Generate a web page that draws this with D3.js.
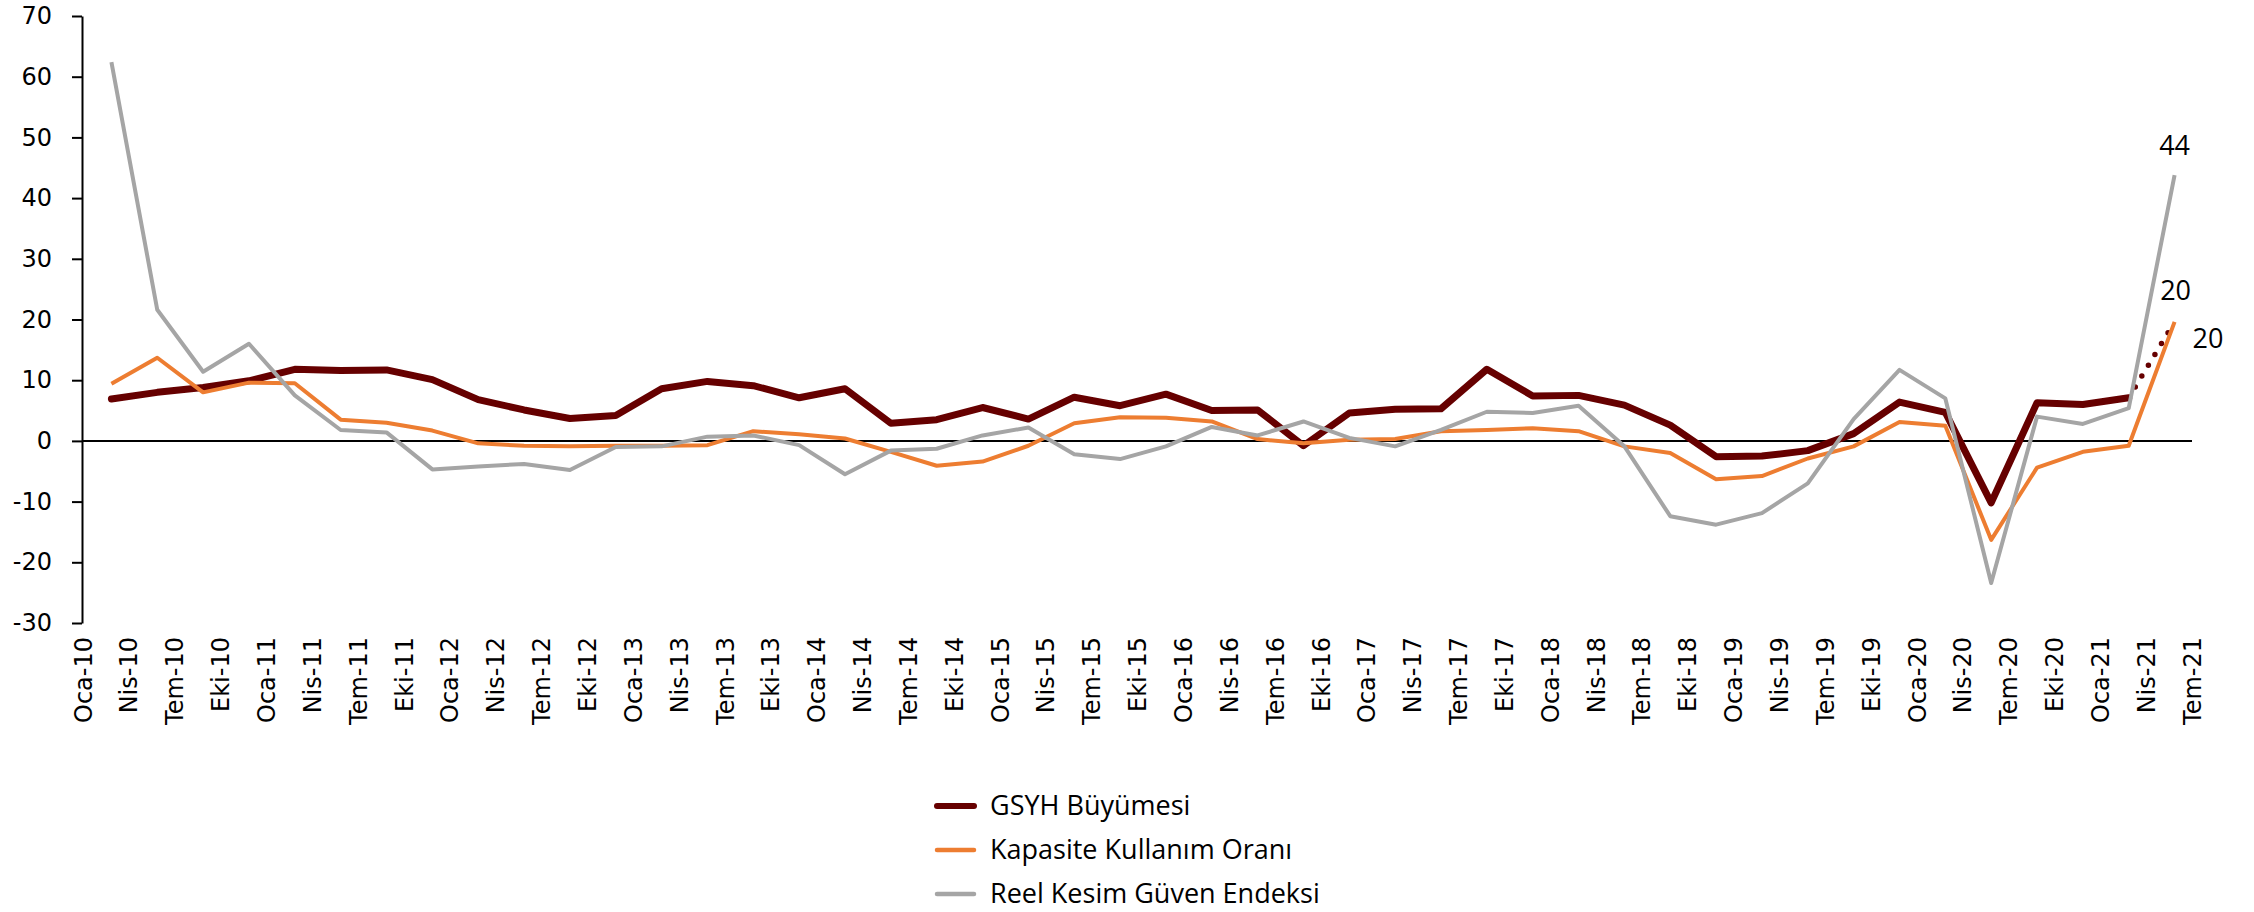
<!DOCTYPE html>
<html lang="tr">
<head>
<meta charset="utf-8">
<script src="https://cdn.jsdelivr.net/npm/d3@7"></script>
<style>
  html, body { margin: 0; padding: 0; background: #fff; }
  svg { display: block; }
</style>
</head>
<body>
<svg id="chart" width="2254" height="912"></svg>
<script>
// Quarterly tick labels (start of each quarter)
const tickLabels = [
  "Oca-10","Nis-10","Tem-10","Eki-10",
  "Oca-11","Nis-11","Tem-11","Eki-11",
  "Oca-12","Nis-12","Tem-12","Eki-12",
  "Oca-13","Nis-13","Tem-13","Eki-13",
  "Oca-14","Nis-14","Tem-14","Eki-14",
  "Oca-15","Nis-15","Tem-15","Eki-15",
  "Oca-16","Nis-16","Tem-16","Eki-16",
  "Oca-17","Nis-17","Tem-17","Eki-17",
  "Oca-18","Nis-18","Tem-18","Eki-18",
  "Oca-19","Nis-19","Tem-19","Eki-19",
  "Oca-20","Nis-20","Tem-20","Eki-20",
  "Oca-21","Nis-21","Tem-21"
];

// Quarters of the observations, 2010 Q1 – 2021 Q2
const quarters = [
  "2010Q1","2010Q2","2010Q3","2010Q4","2011Q1","2011Q2","2011Q3","2011Q4",
  "2012Q1","2012Q2","2012Q3","2012Q4","2013Q1","2013Q2","2013Q3","2013Q4",
  "2014Q1","2014Q2","2014Q3","2014Q4","2015Q1","2015Q2","2015Q3","2015Q4",
  "2016Q1","2016Q2","2016Q3","2016Q4","2017Q1","2017Q2","2017Q3","2017Q4",
  "2018Q1","2018Q2","2018Q3","2018Q4","2019Q1","2019Q2","2019Q3","2019Q4",
  "2020Q1","2020Q2","2020Q3","2020Q4","2021Q1","2021Q2"
];

// GSYH Büyümesi (annual % change), realised up to 2021Q1
const gsyh = [
  6.9, 8.0, 8.8, 9.9, 11.8, 11.6, 11.7, 10.1, 6.8, 5.1, 3.7, 4.2,
  8.6, 9.8, 9.1, 7.1, 8.6, 2.9, 3.5, 5.5, 3.6, 7.2, 5.8, 7.7,
  5.0, 5.1, -0.8, 4.6, 5.2, 5.3, 11.8, 7.4, 7.5, 5.9, 2.6, -2.6,
  -2.5, -1.6, 1.2, 6.4, 4.7, -10.2, 6.3, 6.0, 7.1
];
// GSYH estimate for 2021Q2 (dotted)
const gsyhForecast = 19.6;

// Kapasite Kullanım Oranı (annual change)
const kko = [
  9.4, 13.7, 8.0, 9.6, 9.5, 3.5, 3.0, 1.7, -0.4, -0.8, -0.9, -0.8,
  -0.8, -0.7, 1.6, 1.1, 0.4, -1.8, -4.1, -3.4, -0.8, 2.9, 3.9, 3.8,
  3.2, 0.3, -0.4, 0.2, 0.3, 1.6, 1.8, 2.1, 1.6, -0.9, -2.0, -6.3,
  -5.8, -2.9, -0.9, 3.1, 2.5, -16.3, -4.4, -1.8, -0.8, 19.6
];

// Reel Kesim Güven Endeksi (annual change)
const rkge = [
  62.4, 21.6, 11.4, 16.0, 7.5, 1.8, 1.4, -4.7, -4.2, -3.8, -4.8, -1.0,
  -0.9, 0.7, 0.9, -0.7, -5.5, -1.6, -1.3, 0.9, 2.2, -2.2, -3.0, -0.9,
  2.3, 0.9, 3.2, 0.5, -0.9, 1.8, 4.8, 4.6, 5.8, -0.9, -12.4, -13.8,
  -11.9, -7.0, 3.6, 11.7, 7.0, -23.4, 4.0, 2.8, 5.4, 43.8
];

const yTicks = [70, 60, 50, 40, 30, 20, 10, 0, -10, -20, -30];

const seriesNames = ["GSYH Büyümesi", "Kapasite Kullanım Oranı", "Reel Kesim Güven Endeksi"];
const seriesColors = ["#660000", "#ED7D31", "#A5A5A5"];

// ---- layout ----
const svg = d3.select("#chart");
const axisFont = "'DejaVu Sans', Verdana, sans-serif";
const textFont = "'Open Sans', 'Noto Sans', sans-serif";

// x: quarter index; observations sit late within their quarter
const pointOffset = 0.62;
const x = d3.scaleLinear().domain([0, tickLabels.length - 1]).range([83, 2192]);
const y = d3.scaleLinear().domain([-30, 70]).range([623, 16]);

const xi = i => x(i + pointOffset);

svg.append("rect").attr("width", 2254).attr("height", 912).attr("fill", "#fff");

// y axis
const yAxis = d3.axisLeft(y)
  .tickValues(yTicks)
  .tickSize(10)
  .tickPadding(20)
  .tickSizeOuter(0)
  .tickFormat(d => String(d));

const gy = svg.append("g")
  .attr("transform", `translate(${x(0) - 1},0)`)
  .call(yAxis);
gy.select(".domain").attr("stroke", "#000").attr("stroke-width", 2);
gy.selectAll(".tick line").attr("stroke", "#000").attr("stroke-width", 2);
gy.selectAll(".tick text")
  .attr("fill", "#000")
  .style("font-family", axisFont)
  .style("font-size", "24px");

// zero line
svg.append("line")
  .attr("x1", x(0) - 1).attr("x2", x(tickLabels.length - 1))
  .attr("y1", y(0)).attr("y2", y(0))
  .attr("stroke", "#000").attr("stroke-width", 2);

// x tick labels (rotated)
const gx = svg.append("g");
gx.selectAll("text")
  .data(tickLabels)
  .join("text")
  .attr("transform", (d, i) => `translate(${x(i)},637) rotate(-90)`)
  .attr("text-anchor", "end")
  .attr("dy", "0.36em")
  .style("font-family", axisFont)
  .style("font-size", "24px")
  .attr("fill", "#000")
  .text(d => d);

// ---- lines ----
const line = d3.line()
  .x(d => xi(d.i))
  .y(d => y(d.v));

const toPts = arr => arr.map((v, i) => ({ i, v }));

// GSYH solid
svg.append("path")
  .datum(toPts(gsyh))
  .attr("d", line)
  .attr("fill", "none")
  .attr("stroke", seriesColors[0])
  .attr("stroke-width", 7)
  .attr("stroke-linejoin", "round")
  .attr("stroke-linecap", "round");

// GSYH dotted estimate
const lastG = gsyh.length - 1;
const fcPts = [{ i: lastG, v: gsyh[lastG] }, { i: lastG + 1, v: gsyhForecast }];
const fcPath = svg.append("path")
  .datum(fcPts)
  .attr("d", line)
  .attr("fill", "none")
  .attr("stroke", seriesColors[0])
  .attr("stroke-width", 5.5)
  .attr("stroke-linecap", "round");
{
  const len = fcPath.node().getTotalLength();
  const n = Math.round(len / 12.3);
  fcPath.attr("stroke-dasharray", `0 ${len / n}`);
}

// Kapasite Kullanım Oranı
svg.append("path")
  .datum(toPts(kko))
  .attr("d", line)
  .attr("fill", "none")
  .attr("stroke", seriesColors[1])
  .attr("stroke-width", 4)
  .attr("stroke-linejoin", "round");

// Reel Kesim Güven Endeksi
svg.append("path")
  .datum(toPts(rkge))
  .attr("d", line)
  .attr("fill", "none")
  .attr("stroke", seriesColors[2])
  .attr("stroke-width", 4)
  .attr("stroke-linejoin", "round");

// ---- end-point value labels ----
const fmt = d3.format(".0f");
const endLabels = [
  { i: rkge.length - 1, v: rkge[rkge.length - 1], dx: 0, dy: -20, anchor: "middle" },
  { i: lastG + 1, v: gsyhForecast, dx: 1, dy: -22, anchor: "middle" },
  { i: kko.length - 1, v: kko[kko.length - 1], dx: 18, dy: 26, anchor: "start" }
];
svg.append("g").selectAll("text")
  .data(endLabels)
  .join("text")
  .attr("x", d => xi(d.i) + d.dx)
  .attr("y", d => y(d.v) + d.dy)
  .attr("text-anchor", d => d.anchor)
  .style("font-family", textFont)
  .style("font-size", "27px")
  .attr("fill", "#000")
  .text(d => fmt(d.v));

// ---- legend ----
const legend = svg.append("g").attr("transform", "translate(937,806)");
const rows = legend.selectAll("g")
  .data(seriesNames)
  .join("g")
  .attr("transform", (d, i) => `translate(0,${i * 44})`);
rows.append("line")
  .attr("x1", 0).attr("x2", 37)
  .attr("stroke", (d, i) => seriesColors[i])
  .attr("stroke-width", (d, i) => i === 0 ? 6 : 4.5)
  .attr("stroke-linecap", "round");
rows.append("text")
  .attr("x", 53)
  .attr("dy", "0.32em")
  .style("font-family", textFont)
  .style("font-size", "27px")
  .attr("fill", "#000")
  .text(d => d);
</script>
</body>
</html>
